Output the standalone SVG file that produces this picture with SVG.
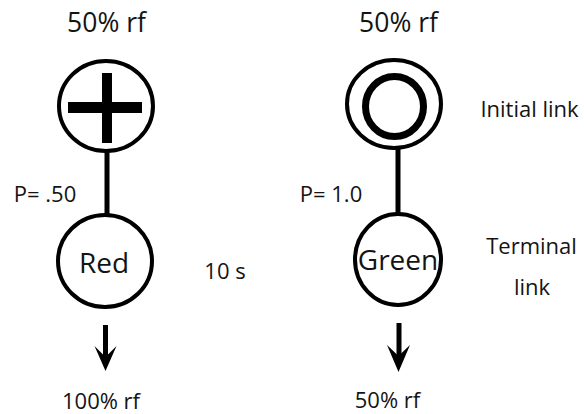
<svg xmlns="http://www.w3.org/2000/svg" width="584" height="414" viewBox="0 0 584 414">
<style>
text{font-family:"Open Sans","Noto Sans","Liberation Sans",sans-serif;fill:#141414;text-anchor:middle}
.ring{fill:#fff;stroke:#000;stroke-width:4}
.big{font-size:26.5px}
.node{font-size:28px}
.lbl{font-size:22px}
.conn{stroke:#000;stroke-width:5;fill:none}
</style>
<rect width="584" height="414" fill="#fff"/>
<g id="connectors">
<line class="conn" x1="107" y1="150" x2="107" y2="215"/>
<line class="conn" x1="398" y1="146" x2="398" y2="214"/>
<line class="conn" x1="105.5" y1="325" x2="105.5" y2="362"/>
<polygon points="94.5,346 105.5,371 116.5,346 105.5,357" fill="#000"/>
<line class="conn" x1="399" y1="323" x2="399" y2="362"/>
<polygon points="387,345 398.5,372 410,345 398.5,356" fill="#000"/>
</g>
<g id="left-initial">
<ellipse class="ring" cx="106" cy="106" rx="47" ry="45"/>
<rect x="102" y="73" width="10" height="70" fill="#000"/>
<rect x="68" y="102" width="74" height="11" fill="#000"/>
</g>
<g id="right-initial">
<ellipse class="ring" cx="394" cy="104" rx="47" ry="44"/>
<ellipse cx="394.5" cy="106.5" rx="29" ry="30" fill="none" stroke="#000" stroke-width="7"/>
</g>
<g id="red">
<ellipse class="ring" cx="105" cy="261" rx="47" ry="46"/>
<text class="node" x="104" y="273">Red</text>
</g>
<g id="green">
<ellipse class="ring" cx="398" cy="259.5" rx="43" ry="45.5"/>
<text class="node" x="398" y="270">Green</text>
</g>
<g id="labels">
<text class="big" x="106.5" y="32">50% rf</text>
<text class="big" x="398.5" y="32">50% rf</text>
<text class="lbl" x="45" y="202">P= .50</text>
<text class="lbl" x="331" y="202">P= 1.0</text>
<text class="lbl" x="225" y="279">10 s</text>
<text class="lbl" x="529.5" y="117">Initial link</text>
<text class="lbl" x="531.5" y="254">Terminal</text>
<text class="lbl" x="532" y="295">link</text>
<text class="lbl" x="101" y="409">100% rf</text>
<text class="lbl" x="387.5" y="408">50% rf</text>
</g>
</svg>
